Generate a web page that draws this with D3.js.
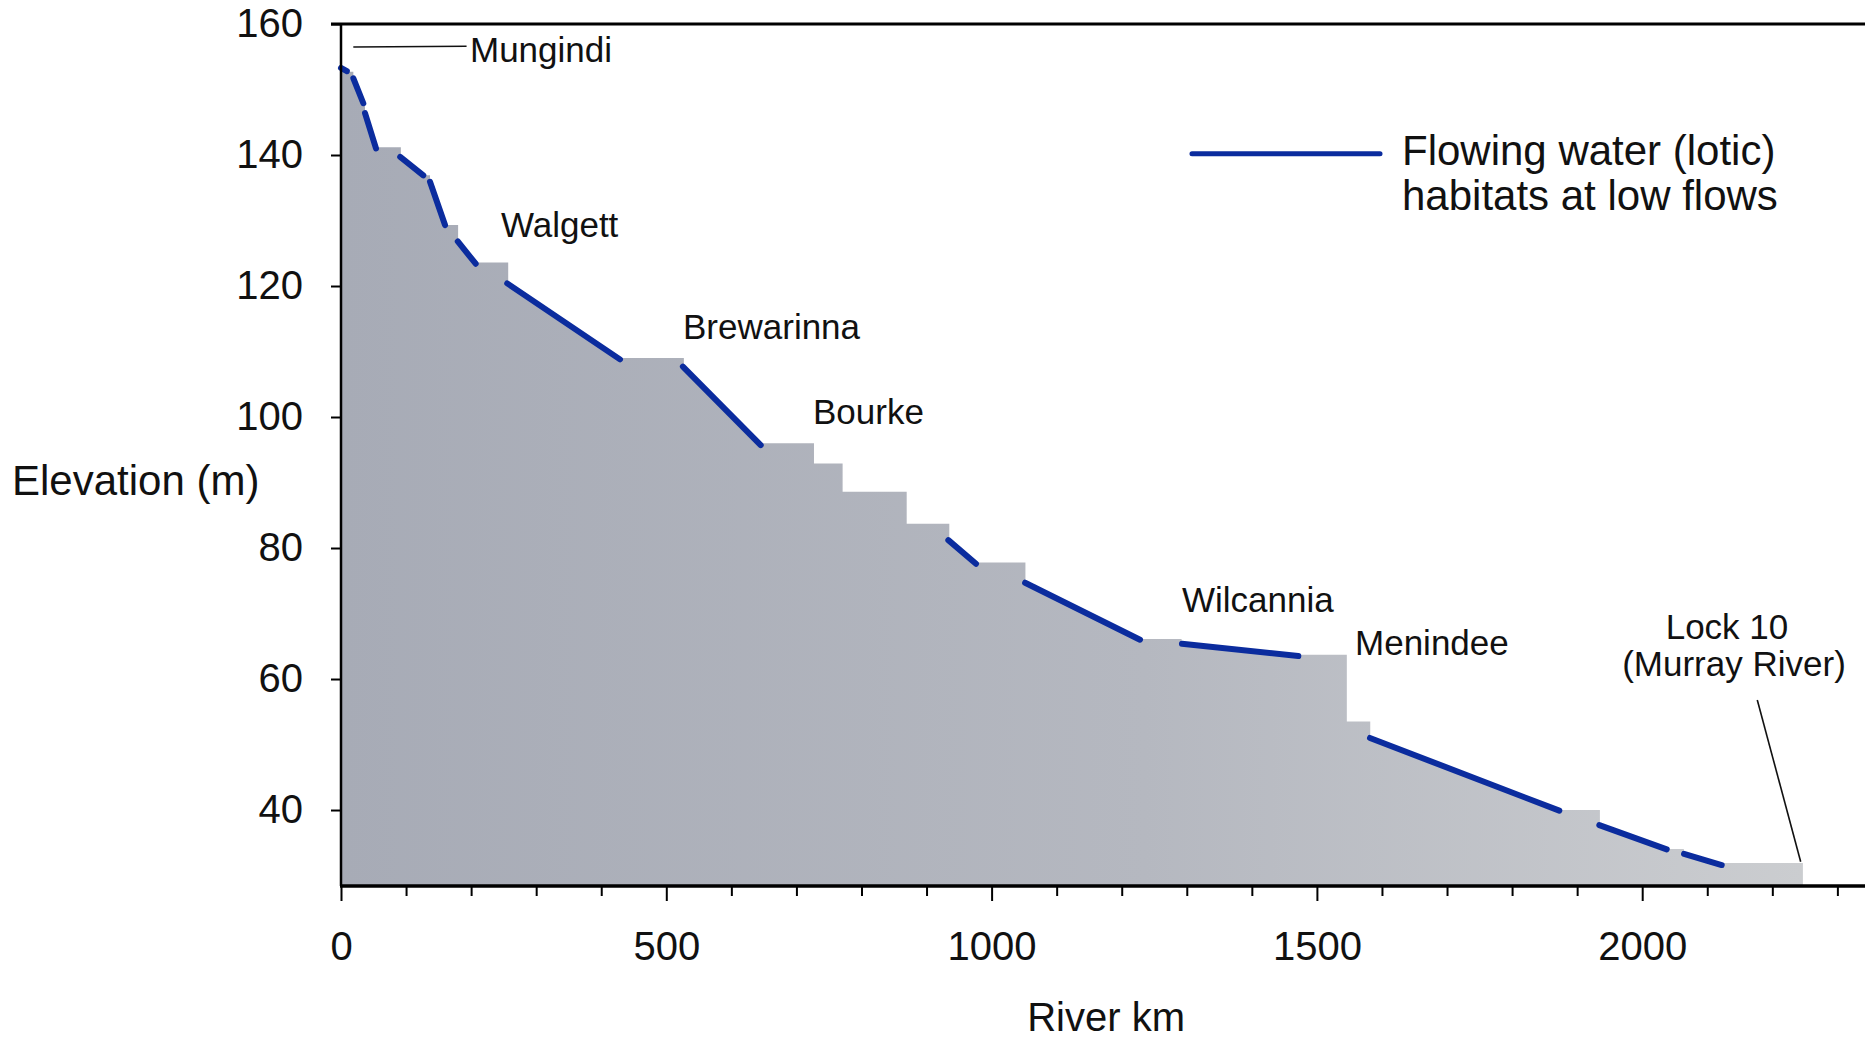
<!DOCTYPE html>
<html><head><meta charset="utf-8">
<script src="https://cdn.jsdelivr.net/npm/d3@7"></script>
<style>
body{margin:0;background:#fff}
svg{display:block}
text{font-family:"Liberation Sans",Arial,Helvetica,sans-serif;fill:#111}
</style>
</head><body>
<svg id="chart" width="1865" height="1040"></svg>
<script>
// ---- data: river profile (km, elevation m) ----
const profileKm   = [0, 9, 19, 19, 34.3, 36.9, 36.9, 53.8, 92, 92, 126.5, 136.8, 136.8, 160, 180, 180, 207, 257, 257, 428.8, 527, 527, 645, 727, 727, 771, 771, 869.5, 869.5, 935, 935, 976, 1052, 1052, 1228, 1292, 1292, 1471, 1546, 1546, 1582, 1582, 1872, 1935, 1935, 2037, 2064, 2064, 2122, 2247];
const profileElev = [153.2, 152.7, 152.7, 151.7, 147.9, 147.9, 146.4, 141.2, 141.2, 139.7, 136.9, 136.9, 135.9, 129.3, 129.3, 126.8, 123.6, 123.6, 120.4, 109.0, 109.0, 107.7, 96.0, 96.0, 92.9, 92.9, 88.6, 88.6, 83.7, 83.7, 81.2, 77.8, 77.8, 74.7, 66.1, 66.1, 65.4, 63.7, 63.7, 53.5, 53.5, 51.0, 40.0, 40.0, 37.7, 34.05, 34.05, 33.3, 31.9, 31.9];

// ---- data: flowing water (lotic) reaches ----
const loticStartKm   = [0, 19, 36.9, 91, 136.8, 179.5, 255.5, 525.5, 933.5, 1051.5, 1292.6, 1581.6, 1934.1, 2064.3];
const loticStartElev = [153.3, 151.7, 146.4, 139.7, 135.9, 126.8, 120.4, 107.7, 81.2, 74.7, 65.4, 51.0, 37.7, 33.3];
const loticEndKm     = [9, 34.3, 53.8, 126.5, 159.9, 207, 428.8, 645.1, 976, 1228.1, 1471.4, 1872.6, 2037.7, 2122.2];
const loticEndElev   = [152.8, 147.9, 141.0, 136.9, 129.3, 123.4, 108.8, 95.7, 77.6, 66.0, 63.5, 39.9, 34.0, 31.6];

// ---- tick values ----
const yTickValues = [40, 60, 80, 100, 120, 140, 160];
const xTickValues = d3.range(0, 2301, 100);
const xTickLabels = [0, 500, 1000, 1500, 2000];

// ---- annotations (text, anchor km, anchor elevation) ----
const placeNames = ["Mungindi", "Walgett", "Brewarinna", "Bourke", "Wilcannia", "Menindee"];
const placeKm    = [198.3, 245.9, 525.7, 725.5, 1292.7, 1558.6];
const placeElev  = [154.2, 127.5, 111.9, 98.9, 70.2, 63.7];

// ---- layout ----
const mLeft = 341, mRight = 1865, mTop = 24, mBottom = 886;
const svg = d3.select("#chart");

const x = d3.scaleLinear().domain([0, (mRight - mLeft) / 0.6506]).range([mLeft, mRight]);
const y = d3.scaleLinear().domain([28.4, 160]).range([mBottom, mTop]);

// gradient fill
const defs = svg.append("defs");
const grad = defs.append("linearGradient").attr("id", "g")
  .attr("gradientUnits", "userSpaceOnUse")
  .attr("x1", x(0)).attr("x2", x(2247)).attr("y1", 0).attr("y2", 0);
grad.append("stop").attr("offset", "0%").attr("stop-color", "#a7abb6");
grad.append("stop").attr("offset", "55%").attr("stop-color", "#b5b8c0");
grad.append("stop").attr("offset", "100%").attr("stop-color", "#cbcdd0");

const profile = profileKm.map((k, i) => [k, profileElev[i]]);
const area = d3.area().x(d => x(d[0])).y0(y(28.4)).y1(d => y(d[1]));
svg.append("path").datum(profile).attr("d", area).attr("fill", "url(#g)");

// lotic reaches
const reaches = loticStartKm.map((k, i) => [[k, loticStartElev[i]], [loticEndKm[i], loticEndElev[i]]]);
const line = d3.line().x(d => x(d[0])).y(d => y(d[1]));
svg.append("g").selectAll("path").data(reaches).join("path")
  .attr("d", line).attr("fill", "none").attr("stroke", "#0b2c9e")
  .attr("stroke-width", 6).attr("stroke-linecap", "round");

// axes
const yAxis = d3.axisLeft(y).tickValues(yTickValues).tickSize(10).tickPadding(28);
const gy = svg.append("g").attr("transform", `translate(${mLeft},0)`).call(yAxis);
gy.select(".domain").remove();
gy.selectAll(".tick line").attr("stroke", "#000").attr("stroke-width", 2);
gy.selectAll(".tick text").attr("font-size", 40).attr("fill", "#111")
  .attr("font-family", '"Liberation Sans",Arial,sans-serif');

const xAxis = d3.axisBottom(x).tickValues(xTickValues).tickSize(10)
  .tickFormat(d => xTickLabels.includes(d) ? d : "");
const gx = svg.append("g").attr("transform", `translate(0,${mBottom})`).call(xAxis);
gx.select(".domain").remove();
gx.selectAll(".tick line").attr("stroke", "#000").attr("stroke-width", 2)
  .attr("y2", d => xTickLabels.includes(d) ? 15 : 10);
gx.selectAll(".tick text").attr("font-size", 40).attr("fill", "#111").attr("dy", 0).attr("y", 74)
  .attr("font-family", '"Liberation Sans",Arial,sans-serif');

// frame lines
svg.append("line").attr("x1", mLeft).attr("x2", mLeft).attr("y1", mTop).attr("y2", mBottom)
  .attr("stroke", "#000").attr("stroke-width", 2.5);
svg.append("line").attr("x1", mLeft - 10).attr("x2", mRight).attr("y1", mTop).attr("y2", mTop)
  .attr("stroke", "#000").attr("stroke-width", 3);
svg.append("line").attr("x1", mLeft - 1).attr("x2", mRight).attr("y1", mBottom).attr("y2", mBottom)
  .attr("stroke", "#000").attr("stroke-width", 3.5);

// axis titles
svg.append("text").attr("x", 12).attr("y", y(90.4) + 15).attr("font-size", 42).text("Elevation (m)");
svg.append("text").attr("x", x(1176)).attr("y", 1031).attr("text-anchor", "middle")
  .attr("font-size", 40).text("River km");

// place labels
svg.append("g").selectAll("text").data(placeNames).join("text")
  .attr("x", (d, i) => x(placeKm[i])).attr("y", (d, i) => y(placeElev[i]))
  .attr("font-size", 35).text(d => d);

// Mungindi leader
svg.append("line").attr("x1", x(18.9)).attr("x2", x(193)).attr("y1", y(156.5)).attr("y2", y(156.6))
  .attr("stroke", "#111").attr("stroke-width", 1.6);

// Lock 10
svg.append("text").attr("x", x(2130.3)).attr("y", y(66.1)).attr("text-anchor", "middle")
  .attr("font-size", 35).text("Lock 10");
svg.append("text").attr("x", x(2141.1)).attr("y", y(60.5)).attr("text-anchor", "middle")
  .attr("font-size", 35).text("(Murray River)");
svg.append("line").attr("x1", x(2176.9)).attr("y1", y(56.8)).attr("x2", x(2243.6)).attr("y2", y(32.1))
  .attr("stroke", "#111").attr("stroke-width", 1.6);

// legend
svg.append("line").attr("x1", x(1308)).attr("x2", x(1597)).attr("y1", y(140.2)).attr("y2", y(140.2))
  .attr("stroke", "#0b2c9e").attr("stroke-width", 5).attr("stroke-linecap", "round");
svg.append("text").attr("x", x(1630.8)).attr("y", y(138.5)).attr("font-size", 42).text("Flowing water (lotic)");
svg.append("text").attr("x", x(1630.8)).attr("y", y(131.6)).attr("font-size", 42).text("habitats at low flows");
</script>
</body></html>
